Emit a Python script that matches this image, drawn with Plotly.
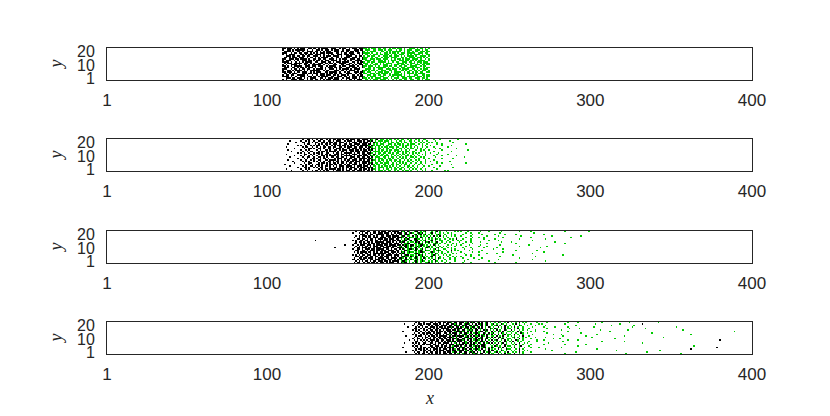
import plotly.graph_objects as go

# ---------------- data ----------------
X_TICKS = [1, 100, 200, 300, 400]
Y_TICKS = [1, 10, 20]
N_COLS = 400
N_ROWS = 22
CELL_CODES = {"k": 1, "g": 2}   # k = black species, g = green species

# Each panel: first x column of the strings, then rows (top row first).
P1_X0 = 110
P1_ROWS = [
    "kk.kkk.k.k .kkk..kk.k k.k.kkkk.. kkk..k.kk. .k.kkk.kkk gg.g.ggg.g g.gg..g.gg .ggg.g..gg gg.g.gg.g. g",
    "k..kk.k.kk kkkk.k..k. .kk.k.kkk. k.kkk..k.k kk..kkk.kk .ggg..gg.g gg.g.ggg.. g.gg.g.ggg ..ggg.g.gg .",
    ".kkkk.k..k k.k..kkkk. kk.k.k.kkk ..kkk.kk.k k.kk.kk..k g.g.gggg.. .gg.g.g.gg ggg..g.gg. g.gg.ggg.g g",
    "kkk..k.kk. kk.kkk.k.k .k.kkk.kkk k..kk.k.kk .kkk..kk.k gggg.g..g. g..gg.g.gg .g.ggg.ggg gg..ggg.gg .",
    "k.k.kkkk.. .kk.k.kkk. kkkk.k..k. kk..kkk.kk k.kkk..k.k .gg.g.ggg. gg.ggg.g.g g.ggg..g.g .gggg.g..g g",
    "..kkk.kk.k k.kk.kk..k kk.k.k.kkk .kkkk.k..k kkk..k.kk. g.gg.gg..g ..ggg.gg.g gg.g.g.ggg g.g..gggg. g",
    ".kk.k.kkk. kkk..k.kk. k.k.kkkk.. k..kk.k.kk kk.kkk.k.k ggg..g.gg. .g.ggg.ggg g..gg.g.gg gg.ggg.g.g .",
    "kk..kkk.kk .kkkk.k..k k.kk.kk..k kk.k.k.kkk ..kkk.kk.k gg..ggg.gg g.ggg..g.g .gg.g.ggg. gggg.g..g. g",
    "k.kkk..k.k ..kkk.kk.k .kk.k.kkk. kkkk.k..k. k.k..kkkk. .gggg.g..g gg.g.g.ggg ..ggg.gg.g g.g.gggg.. g",
    "kkkk.k..k. k.k.kkkk.. kk..kkk.kk .k.kkk.kkk k..kk.k.kk g.gg.gg..g gggg.g..g. gg..ggg.gg .g.ggg.ggg .",
    ".k.kkk.kkk kk.kkk.k.k ..kkk.kk.k k.k..kkkk. .kk.k.kkk. ggg..g.gg. g.g.gggg.. .gggg.g..g gg.g.g.ggg g",
    "k.k..kkkk. k..kk.k.kk kkkk.k..k. .kkk..kk.k kk.k.k.kkk .gg.g.ggg. g.ggg..g.g gg.ggg.g.g ..ggg.gg.g g",
    "kk.k.k.kkk kk..kkk.kk k.kkk..k.k kkk..k.kk. .kkkk.k..k gg.ggg.g.g ..ggg.gg.g g.gg.gg..g ggg..g.gg. .",
    ".kkk..kk.k .kk.k.kkk. k..kk.k.kk k.kk.kk..k kk.kkk.k.k g..gg.g.gg gggg.g..g. .g.ggg.ggg g.ggg..g.g g",
    "kkk..k.kk. k.kk.kk..k .kkkk.k..k kk.k.k.kkk k.k.kkkk.. .gggg.g..g gg..ggg.gg g.g.gggg.. gg.g.g.ggg .",
    "k..kk.k.kk kk.k.k.kkk kkk..k.kk. ..kkk.kk.k .kkkk.k..k gg.g.gg.g. .ggg..gg.g g..gg.g.gg .gg.g.ggg. g",
    "kk.kkk.k.k k.kkk..k.k .kkk..kk.k kkkk.k..k. kk..kkk.kk g.ggg..g.g gg.ggg.g.g ggg..g.gg. g.gg.gg..g g",
    ".kk.k.kkk. ..kkk.kk.k kk.kkk.k.k k.kk.kk..k kkk..k.kk. gg..ggg.gg .gggg.g..g gg.g.g.ggg g.g.gggg.. .",
    "k.kk.kk..k kkkk.k..k. .k.kkk.kkk .kk.k.kkk. k..kk.k.kk ..ggg.gg.g g.gg..g.gg gggg.g..g. .ggg..gg.g g",
    "kkkk.k..k. .kkk..kk.k k.k.kkkk.. kk..kkk.kk .k.kkk.kkk g.g.gggg.. ggg..g.gg. .g.ggg.ggg gg.ggg.g.g g",
    "..kkk.kk.k kk.k.k.kkk k..kk.k.kk k.kkk..k.k kk.kkk.k.k gg.g.g.ggg g.ggg..g.g gg..ggg.gg ..ggg.gg.g .",
    "k.k..kkkk. kkk..k.kk. kk.k.k.kkk .kkkk.k..k .kk.k.kkk. .gg.g.ggg. gggg.g..g. g.gg.gg..g g..gg.g.gg g",
]

P2_X0 = 111
P2_ROWS = [
    ".......... .k..kk.k.. k.kk..k.k. kk.kk.k.kk .kkk.kk.kk kk.kg.gk.g gg.g.gg.g. g.gg..g.g. .g.g..gg.. ..g...g... .......g.. .....",
    "...k...... k..k.k..k. .kk.k..kk. k.kkk..k.k kk.k.kkk.k .kkgk.g.gg g.ggg.g..g .gg.g..gg. g..g.g..g. ...g...... ..g....... .....",
    ".......k.. .kk..k.k.k k..kk.k.kk .kk.kkk.k. k.kkk.kk.k kk.k.kgg.g .gg.g.gg.g g.g.gg..g. .g..g.g..g .g..g..... ....g..... .....",
    "..k....... ..k.kk...k .k.k.kk.k. kkk.k..kk. kk.kkkk.kk k.kk.g.g.g gg..ggg.g. gg.g..g.gg g..g.g..g. ....g..g.. .......... ..g..",
    "........k. k..k..k.k. kk..k.k..k .k.kk.kk.k .kkk.k.kkk kkg.kg.ggg .g.gg.g.gg .g.g.gg.g. .g...g.g.. g......g.. ...g...... .....",
    ".k........ .k.kk..k.. k.k.kk.kk. kk..kk.k.k kk.kk.kkk. k.kkg.g.g. g.gg.ggg.g g..g.g..g. g.g..g..g. ..g....... .g........ .....",
    "......k... ..k..kk.k. .kk.k..kk. k.kkk.k..k k.kkk.kk.k .kk.kgg.gg .g.gg..g.g .gg.g.g.gg ..g.g..g.. ...g..g... ......g... .....",
    "..k....... k..k.k.... k.k..kk.k. .kk.k.kkk. kkk.kk.k.k k.kgk.g.g. gg.g.gg.gg g.g..g.g.. .g..g.g..g .......g.. .......... ...g.",
    "....k..... .k..k.kk.. .k.kk.k.kk kk.k.kk.k. .kk.kkk.kk kk.k.gggg. g.gg.g..g. gg.g.gg..g g...g..g.. ..g....... ...g...... .....",
    "........k. k.k..k..k. kk.k..kk.. k.kk.k.kkk kk.k.kk.kk .kkkg.g.gg .gg.gg.g.g g..g.g.g.g .g.g...g.. g....g.... .......... .....",
    ".k........ ..kk..k.k. .k.k.kk.k. .kkk.kk.k. k.kkk.k.kk k.kg.kg.g. gg.g..gg.g .g.gg.g..g ..g..g.g.. ....g..... .g........ .....",
    "......k... k.k..k.k.. k..kk.k.kk kk.k.k.kkk kk.k.kkk.k kk.kgg.g.g g.ggg.g.g. g.g..gg.g. g..g...g.. ..g....g.. ......g... .....",
    "...k...... .k..kk..k. .kk.k.k..k k.kk.kk.k. .kkk.kk.kk .kk.k.ggg. .gg.g.gg.g .g.g.g..gg .g..g.g... ...g...... .......... .g...",
    "........k. ..k.k..kk. k.k.kk.k.. .k.kkk.kk. kk.kk.kkkk k.kkg.g.gg g.g.gg.g.. g.gg.g.g.. g..g..g..g .......g.. ....g..... .....",
    "..k....... k..k..k.k. .kk..kk.kk kk.k.k.k.k k.kkk.kk.k .kk.kgg.g. gg.g.gg.gg .g..g.g.g. .g.g...g.. ..g....... .......... .....",
    ".....k.... .k.k.k..k. k.k.k..kk. k.kk.kk.kk .kk.kkk.kk kkk.g.g.gg .g.gg.g.g. gg.g..gg.g ..g.g..g.. g...g..... ..g....... .....",
    "......k... ..k..kk... .k.kk.k.k. kk.k.kk.k. kk.kk.k.kk k.kgk.gg.g g.ggg..g.g .g.g.g..g. .g..g..g.. ....g..g.. .......... ..g..",
    "k......... k..k.k.k.. kk.k..k.kk .kk.kk.k.k k.kkk.kk.k .kk.kg.gg. .gg.g.gg.g g.g.gg.g.. g..g.g.... .g........ ...g...... .....",
    "...k...... .k.k..kk.k .k.k.kk.k. k.k.kkk.kk kk.k.kkk.k kk.k.gg.g. g.gg.g.g.g .g..g.gg.g ..g...g..g ......g... .......... .....",
    "........k. ..kk.k..k. k.kk.k..k. .kk.k.k.kk .kkk.k.kkk .kkgk.g.gg gg.g.gg.g. g.gg..g.g. g.g..g.... ..g....... ....g..... .....",
    ".k........ k..k.k.... .k.k.kk.kk kk.kk.k.k. kk.kk.kk.k k.k.kgg.g. .g.gg.g.gg .gg.g..g.g .g..g..g.. ....g..... .......... .....",
    "....k..... .k..k..k.k k.k.k.kk.. k.kkk.k.kk k.kk.kkk.k .kk.k.g.gg g.g.gg..g. g..g.gg.g. ..g..g.g.. .g.......g .g........ .....",
]

P3_X0 = 130
P3_ROWS = [
    ".......... .......... .....k..kk k.kk..kk.k .kkk.kk.kk kk.kgk.kg. .gkk.g.gk. ..g.gk.g.. .g....g.g. g...g..... ..g....g.. .....g.... ......g... ...g...... .......... ....g..... .........g.",
    ".......... .......... ...k...k.k .kk.k.kk.k kk.kkk.k.k .kkk.gk.gk g..gkgk.g. .gk.g..g.g ..g.g..... ...g..g... .g........ ....g..... .......... .....g.... .......... .......... ...........",
    ".......... .......... ........kk k.k.kk..kk kkk.kk.kk. k.kk.gkkg. .gk.gk.gk. g.g..gkg.. g...g.g... .g.....g.. ...g...... .g.....g.. ....g..... .......... .g........ .......... ...........",
    ".......... .......... .....k.k.k kk.kk.k.k. .kk.kkk.kk kk.gkk.gg. k.gk.g.g.g .g.k.g.k.g .g..g.g... g.....g... ......g... ...g...... .......g.. .......... ......g... .......... ....g......",
    ".......... .......... ....k..k.k .k.kk.kkk. kkkk.kk.kk .kkkg.k.kg g.gk.kg.g. k.g.g.g..g ..g....g.. ...g...g.. .g..g..... ......g... .......... ...g...... .......... ........g. ...........",
    ".......... .......... ......kk.k k.k.kk.k.k kk.kk.kkk. kk.g.kgkg. .kkgg.g.g. g.g.kg.g.. g..g.g.k.. .g....g... ....g..... .g........ ......g... .......... ..g....... .......... ...........",
    "k......... .......... ...k.k..kk .kk.kk.kk. k.kkk.k.kk .kk.gkk.gk .gkk.g.gk. .gk.g..gg. ..g..g..g. g.....g... .......g.. ...g...... .......... ....g..... .......... .......... ...........",
    ".......... .......... .....k.kk. k.kk.k.kkk kkk.kkk.k. k.kgkk.g.g g.kgk.g.kg k.g.gk..g. .g.g.....g ...g..g... ..g....... .....g.... .g........ .......... ........g. .......... ...........",
    ".......... .......... ....kk..k. kk.k.kk.kk .kkkk.kk.k kk.k.ggkk. .gg.kgk.g. g..gkg.g.. g....g.g.. .g.....g.. ......g... .......... ....g..... .......... .......... ....g..... ...........",
    ".......... ........k. ...k..k.kk k.kkk.k.kk kk.kk.kkkk .kk.kgkg.k k.g.gkkg.g .g.kg.g... ..g.g..g.. g....g.... ..g....... ....g..... .......... ..g....... .......... .......... ...........",
    ".......... .......... .....k.k.k .kk.k.kkk. kkk.kkk.kk k.gk.kkg.k g.gkgk.g.g k.g.g..g.g .g....g... ...g...... .g....g... .......... ......g... .......... ...g...... .......... ...........",
    ".......... ..k....... ....k.kk.k kk.kk.k.kk k.kkkk.kk. .kkkg.kg.g .gk.g.g.gk g.g..gk.g. ..g.g..... .g....g... ....g..... ..g....... .......... .........g .......... .......... ...........",
    ".......... .......... ...k..kk.k .kkk.kk.kk kkk.kk.k.k k.k.kg.gkk g.kg.gk.g. .g.gk.g..g g...g.g... ..g....g.. .......... g.....g... .......... .......... .......... .......... ...........",
    ".......... .......... .....kk..k k.k.kkk.kk .kkk.kkkk. kk.g.kkgg. .gk.gkg.kg g..g.gkg.. .g..k.g.g. .....g.... ...g...... .......... ....g..... .......g.. .......... .......... ...........",
    ".......... .......... ....k.k.kk kk.kk.k.k. kk.kkk.kkk .k.kgk.gkg g.g.gkkg.. .gkg..g.g. ..g.g..... g......g.. .g........ ......g... .......... .......... .g........ .......... ...........",
    ".......... .......... ......k.kk .kk.k.kkkk kkkk.kk.k. k.kgkk.gg. .gkkg.g.g. g.g.kg..g. g....g.g.. ..g....... ......g... ..g....... .......... ....g..... .......... .......... ...........",
    ".......... .......... ...k.k.k.k k.kkk.kk.k .kk.kkkk.k kk.k.gkk.g g.g.kgk.g. ..gkg.g..g .g.g...... ...g..g... .g........ .......... ..g....... .......... .......... ...g...... ...........",
    ".......... .......... .....kk.kk .kk.kk.kk. kk.kkk.k.k .k.gkkgg.k g.kg.gkg.g .gk.g..g.. ..g..g.g.. g.....g... .......... ....g..... .......... ......g... .......... .......... ...........",
    ".......... .......... ....k..kk. kk.kkk.k.k kkk.kk.kkk k.kkg.k.gg .gkg.g.kg. g.g.g.kg.g ...g..g... .g......g. ...g...... .......... ......g... .......... .......... .......... ...........",
    ".......... .......... ...kk.k.kk k.k.kk.kkk .kkk.kkk.k .kgk.gkg.k g.gk.gk.g. .g.kg.g... g..g..g... ....g..... .g........ ...g...... .......... ....g..... .......... .......... ...........",
    ".......... .......... .....k.k.k .kk.k.kk.k kk.kk.k.kk kk.gkkg.g. .gkg.gkg.. g.g.kg..g. .g....g... ..g....... .......g.. .......... .......... .......... ..g....... .......... ...........",
    ".......... .......... ....k.kk.. k.kk.kk.k. kkk.k.kkk. .k.kgkk.g. g.kg.g..gg k.g.g.g... g..g...... .g....g... .......... .g........ ....g..... .......... .......... .......... ...........",
]

P4_X0 = 180
P4_ROWS = [
    ".......... ..k.k..k.. .kk.k.kk.k k.kkg.kk.k kk.gk.kgk. gk.k.gk.g. .g.kg..g.k .g..g.k.g. g......g.. ...g...... ......g... ..g....... .......g.. .......... ....g..... .......... ..g....... .......... .......... .......... .............",
    ".....k.... .k..kk.k.k kk.kkk.k.k .kk.kkgk.k k.gkkg.k.k .kgk.gk..g k.g..kg.g. ..g.k.g..g ...g....g. g......... ....g..... .......... ...g...... ........g. .......... ..k....... .......... .......... .......... .......... .............",
    ".......... k..k.kk... k.k.kkk.kk kk.kk.kkgk .kgk.kk.gk k.gk.gk..g .gk.g..kg. g..g..kg.. .g....g... ..g....... .......... .g........ .......... ...g...... .......g.. .......... .......... .......... .......... .......... .............",
    ".......k.. ..k.k.k.kk .kkk.k.kk. k.kkgk.kk. kg.kk.gkk. gk.k.g.kg. g..k.g.k.g .g.k.g..g. ....g..... .g......g. ......g... .......... ..g....... .......... ......g... .......... .......... ...g...... .......... .......... .............",
    ".......... .kk..k.k.. kk.k.kk.kk kkk.k.kgkk k.kgk.k.gk .kgk.g..kg .kg..g.k.g g..g.k..g. ..g....... ...g...... .......g.. ...g...... .......... .......... .......... ....g..... .......... .......... .......... .......... .............",
    ".......... k.k.k..k.k .kk.kk.k.k .kkk.kk.kg .kk.gkgk.k k.g.kgk.g. g.k.g..kg. .k.g..g.g. .g....g... .......... ..g....... .......... ......g... .......... ...g...... .......... .......... .......g.. .......... .......... .............",
    "....k..... ..kk.k..k. k.kk.k.kk. k.kkk.gkkk kgk.k.kg.k .gkk.kg..k .g.kg.k..g g.g..k.g.. ...g..g... .g........ ......g... .......... .......... ..g....... .......... .......... .......... .......... .......... .......... .........g...",
    ".......... .k..k.kk.k kk.k.kkk.. kk.k.kkk.g k.kkg.k.gk kg..kg.k.g k..g.kg.g. .g..g..kg. .g........ ...g...... .......... ....g..... .......... .......... .......... ........g. .......... .......... .......... .......... .............",
    ".......... k.k..k.k.k .kk.kk.k.k .kkgk.kk.k .gkk.kgk.k .k.gk.kg.k .g.k..gk.g g..k.g..g. ....g..... .......g.. ..g....... .......... ....g..... .......... .......... .......... .......... .......... ..g....... .......... .............",
    "......k... ..k.kk..k. k.kk.k.kkk kk.k.kkgkk kk.gk.k.kg gk.kg.k..g g.k.g.k..g .g.g..g.k. ..g....... .......... ...g...... .......g.. .......... .......... .g........ .......... .......... .......... .......... .......... .............",
    ".......... .k.k..k.kk .k.kk.kk.k k.kkkg.k.k k.gkk.gk.k k.gk..kg.k .k.gk.g.g. ..gk.g..g. g.....g... ..g....... .......... .......... .g........ .......... .......... .......... .....g.... .......... .......... .......... .............",
    ".......... k..kk.k.k. kk.k.k.kk. kk.k.kkgk. .kk.gkk.gk .kgk.gk.g. g..k.gk..g g..g..k.g. ...g...... .......g.. .g........ .......... .......... .....g.... .......... .......... .......... .......... .......... .......... .............",
    "........k. .k.k.k.k.k .kkk.kk.kk .kkk.k.gkk kgk.k.k.gk kg.k.k.g.k .gk..g.k.g .g..kg..g. .......g.. .g........ ......g... ..g....... .......... .......... .......... .......... .......... .......... .......... .......... k............",
    ".......... ..kk..k.k. k.k.kkk.k. k.kkgkk.kk k.kg.kkg.k g.kkg.k.g. k.g.g..kg. g.k..g.g.. ..g....g.. .......... ...g...... .......... .......g.. .......... .g........ .......... .......... .......... .......... .......... .............",
    ".....k.... k.k.k..kk. .kk.k.kk.k kkk.k.gk.k .kkgk.k.kg .kg.k.gk.k .g.k.gk.g. .g.g..k..g .g........ ....g..... .......... .......... .......... .......... .......... ..g....... .......... .......... .......... .......... .............",
    ".......... .k..k.kk.k kk.kk.k.kk .k.kkk.kgk kk.k.gkgk. k.gkkg..g. g.k..g.kg. ..g.k.g.g. ...g...... .g........ ....g..... .......g.. .......... .......... .......... .......... .......... .......... .......... .......... .............",
    ".......... k.kk.k.... .kk.kkk.k. kk.k.gkkk. k.gk.kk.gk gk.kkg...g .kg.g..k.g g..g..gk.. ..g....... .......... .......... ..g....... .......... .......... .......... .......... .......... .......... ....g..... .......... .............",
    "....k..... .k.k.k.kk. k.kk.k.kk. k.kkgk.k.k gkk.k.gk.k .k.gkk.g.k g..kg.k.g. .g.k..g..g ...g....g. .......... ..g....... .......... .......... .......... .......... .......... .......... .......... .......... ........k. .............",
    ".......... ..k.kk.k.k .k.kkk.k.k kk.k.kg.kk .kgk.kk.gk kg.k.g.k.g .g.k.g..kg g...g.k.g. .......... ..g....... .......... .......... ....g..... .......... .......... .......... .......... .......... ..k....... .......... .............",
    ".......... k.k..k.kk. kk.k.k.kkk .kkk.kk.gk kk.gk.gk.k .gk.kg.k.k k.g..kg.g. .g.g..k..g .g........ ......g... .......... .......... .......... ......g... .......... .......... ...g...... .......... .......... .......... .............",
    "......k... .k.kk..k.k .kk.kk.k.k k.kk.gkk.k k.kk.gkgk. k.g.k.gkg. .gk.g..g.k ..g.g.k.g. ...g...... .......... .......... .g........ .......... .......... .......... .....g.... .......... .......... .......... .......... .............",
    ".......... ..k.k.kk.. k.k.kk.k.k kk.kk.k.gk .gkk.k.kgk g.kk.g.k.g g..k.g.k.g g..k..g.g. .......... .......... ....g..... .......... .......... .......... ..g....... .......... .......... ......g... .......... .......... .............",
]

PANELS = [(P1_X0, P1_ROWS), (P2_X0, P2_ROWS), (P3_X0, P3_ROWS), (P4_X0, P4_ROWS)]

# ---------------- figure ----------------
X_VALUES = list(range(1, N_COLS + 1))
Y_VALUES = [r + 0.5 for r in range(N_ROWS)]


def build_grid(x0, rows):
    z = [[None] * N_COLS for _ in range(N_ROWS)]
    for i, row in enumerate(rows):
        cells = row.replace(" ", "")
        yi = N_ROWS - 1 - i
        for j, c in enumerate(cells):
            col = x0 + j - 1
            if c in CELL_CODES and 0 <= col < N_COLS:
                z[yi][col] = CELL_CODES[c]
    return z


DOMAINS = [[0.8954, 1.0], [0.5980, 0.7026], [0.2974, 0.4020], [0.0, 0.1046]]
TEXT = "#262626"
GREEN = "#00cc00"

fig = go.Figure()
# the page body adds an 8px offset, so the figure is 8px smaller on each axis
layout = dict(
    width=822, height=408,
    margin=dict(l=99, r=78, t=40, b=62),
    paper_bgcolor="white", plot_bgcolor="white",
    showlegend=False,
    font=dict(family="Liberation Sans, Arial, sans-serif", size=17, color=TEXT),
)
annotations = []
for k, (x0, rows) in enumerate(PANELS):
    sfx = "" if k == 0 else str(k + 1)
    fig.add_trace(go.Heatmap(
        x=X_VALUES, y=Y_VALUES, z=build_grid(x0, rows),
        zmin=1, zmax=2,
        colorscale=[[0, "#000000"], [0.5, "#000000"], [0.5, GREEN], [1, GREEN]],
        showscale=False, hoverinfo="skip",
        xaxis="x" + sfx, yaxis="y" + sfx,
    ))
    layout["xaxis" + sfx] = dict(
        domain=[0, 1], anchor="y" + sfx, range=[1, 400],
        tickvals=X_TICKS, ticktext=[str(v) for v in X_TICKS],
        showgrid=False, zeroline=False, showline=True, mirror=True,
        linecolor=TEXT, linewidth=1, ticks="", ticklabelstandoff=5,
        tickfont=dict(size=17, color=TEXT), automargin=False,
    )
    layout["yaxis" + sfx] = dict(
        domain=DOMAINS[k], anchor="x" + sfx, range=[0, 22],
        tickvals=Y_TICKS, ticktext=[str(v) for v in Y_TICKS],
        showgrid=False, zeroline=False, showline=True, mirror=True,
        linecolor=TEXT, linewidth=1, ticks="", ticklabelstandoff=8,
        tickfont=dict(size=16, color=TEXT), automargin=False,
    )
    annotations.append(dict(
        text="<i>y</i>", xref="paper", yref="paper",
        x=-0.0784, y=sum(DOMAINS[k]) / 2, xanchor="center", yanchor="middle",
        textangle=-90, showarrow=False,
        font=dict(family="Liberation Serif, serif", size=18, color=TEXT),
    ))

annotations.append(dict(
    text="<i>x</i>", xref="paper", yref="paper",
    x=0.5, y=-0.1438, xanchor="center", yanchor="middle", showarrow=False,
    font=dict(family="Liberation Serif, serif", size=18, color=TEXT),
))
layout["annotations"] = annotations
fig.update_layout(**layout)
fig.write_html("out.html")
